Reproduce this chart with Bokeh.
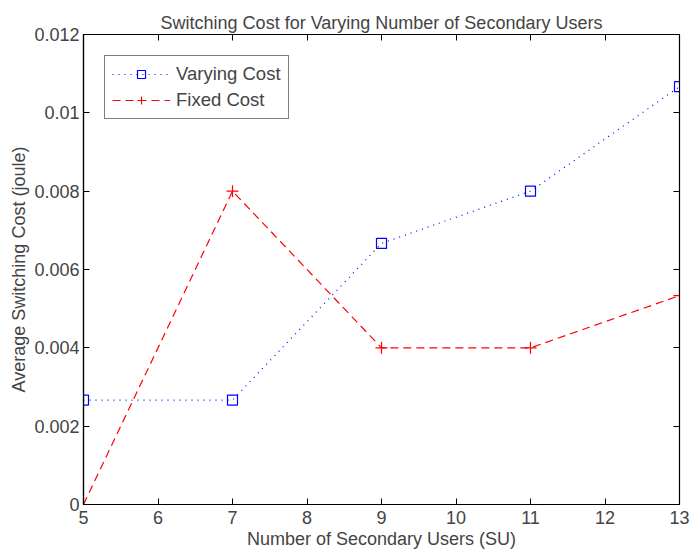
from bokeh.plotting import figure
from bokeh.models import LinearAxis, Range1d, Legend, LegendItem, FixedTicker
from bokeh.embed import file_html
from bokeh.resources import INLINE

su = [5, 7, 9, 11, 13]
varying_cost = [0.002667, 0.002667, 0.006667, 0.008, 0.010667]
fixed_cost = [0.0, 0.008, 0.004, 0.004, 0.005333]
x_ticks = [5, 6, 7, 8, 9, 10, 11, 12, 13]
y_ticks = [0, 0.002, 0.004, 0.006, 0.008, 0.01, 0.012]
y_tick_labels = ["0", "0.002", "0.004", "0.006", "0.008", "0.01", "0.012"]

FONT = "Liberation Sans"
FS = "18px"

p = figure(width=691, height=557, output_backend="svg", toolbar_location=None,
           x_range=Range1d(5, 13), y_range=Range1d(0, 0.012),
           min_border_left=83, min_border_right=12, min_border_top=34, min_border_bottom=53)
p.title.text = "Switching Cost for Varying Number of Secondary Users"
p.title.align = "center"
p.title.text_font = FONT
p.title.text_font_size = FS
p.title.text_font_style = "normal"
p.title.offset = 0
p.title.standoff = 4

p.grid.visible = False
p.outline_line_color = "black"
p.outline_line_width = 1.2

for ax in [p.xaxis[0], p.yaxis[0]]:
    ax.major_tick_in = 6
    ax.major_tick_out = 0
    ax.minor_tick_line_color = None
    ax.axis_line_color = "black"
    ax.axis_line_width = 1.2
    ax.major_label_text_font = FONT
    ax.major_label_text_font_size = FS
    ax.axis_label_text_font = FONT
    ax.axis_label_text_font_size = FS
    ax.axis_label_text_font_style = "normal"

p.xaxis[0].ticker = FixedTicker(ticks=x_ticks)
p.yaxis[0].ticker = FixedTicker(ticks=y_ticks)
p.yaxis[0].major_label_overrides = {t: l for t, l in zip(y_ticks, y_tick_labels)}
p.xaxis[0].axis_label = "Number of Secondary Users (SU)"
p.yaxis[0].axis_label = "Average Switching Cost (joule)"
p.xaxis[0].axis_label_standoff = 2
p.yaxis[0].axis_label_standoff = 2
p.xaxis[0].major_label_standoff = 6
p.yaxis[0].major_label_standoff = 4

top = LinearAxis(ticker=FixedTicker(ticks=x_ticks), major_label_text_font_size="0px",
                 major_tick_in=6, major_tick_out=0, minor_tick_line_color=None,
                 major_label_text_color=None, major_label_standoff=0)
right = LinearAxis(ticker=FixedTicker(ticks=y_ticks), major_label_text_font_size="0px",
                   major_tick_in=6, major_tick_out=0, minor_tick_line_color=None,
                   major_label_text_color=None, major_label_standoff=0)
p.add_layout(top, "above")
p.add_layout(right, "right")

l1 = p.line(su, varying_cost, line_color="blue", line_dash="1 5", line_width=1.2)
m1 = p.scatter(su, varying_cost, marker="square", size=10, fill_color=None,
               line_color="blue", line_width=1.2)
l2 = p.line(su, fixed_cost, line_color="red", line_dash="8 5", line_width=1.2)
m2 = p.scatter(su, fixed_cost, marker="cross", size=12, line_color="red", line_width=1.2)

legend = Legend(items=[LegendItem(label="Varying Cost", renderers=[l1, m1]),
                       LegendItem(label="Fixed Cost", renderers=[l2, m2])],
                location="top_left")
legend.label_text_font = FONT
legend.label_text_font_size = "18.5px"
legend.border_line_color = "black"
legend.border_line_width = 1
legend.glyph_width = 58
legend.glyph_height = 20
legend.label_standoff = 6
legend.spacing = 4
legend.padding = 7
legend.margin = 21
legend.label_height = 20
p.add_layout(legend, "center")

open("out.html", "w").write(file_html(p, INLINE))
